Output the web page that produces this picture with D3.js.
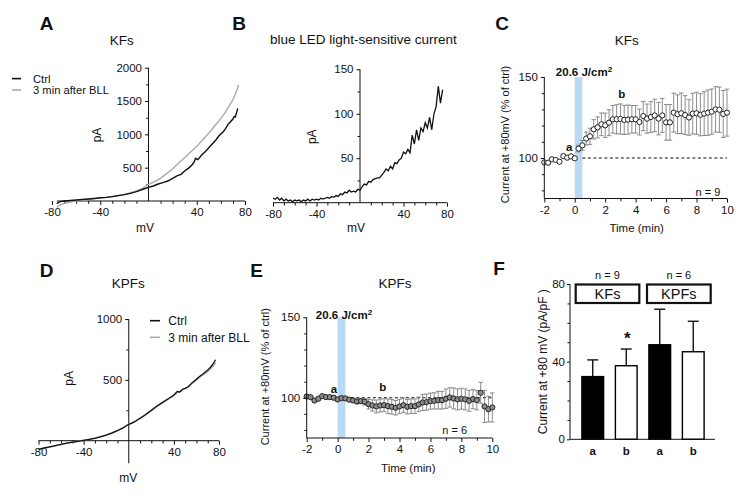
<!DOCTYPE html>
<html><head><meta charset="utf-8">
<script src="https://cdn.jsdelivr.net/npm/d3@7"></script>
<style>body{margin:0;background:#fff}</style>
</head><body><svg id="c" width="743" height="503"></svg>
<script>
// ---------------- DATA ----------------
// Panel A (KFs I-V) : [mV, pA]
const ivA_ctrl = [[-76,-40],[-75,-25],[-73,-10],[-70,0],[-65,8],[-60,15],[-55,22],[-50,30],[-45,38],[-40,48],[-35,55],[-30,65],[-25,80],[-20,95],[-15,115],[-10,140],[-7,160],[-4,180],[0,205],[4,225],[8,255],[12,275],[16,300],[20,340],[24,380],[27,400],[30,450],[33,490],[36,540],[38,590],[39,640],[41,620],[44,690],[47,740],[50,800],[53,860],[56,920],[59,990],[62,1040],[64,1090],[66,1150],[68,1190],[70,1230],[71,1270],[72,1260],[74,1390]];
const ivA_bll = [[-76,-95],[-74,-70],[-72,-50],[-70,-38],[-65,-15],[-60,0],[-55,10],[-50,22],[-45,35],[-40,45],[-35,55],[-30,68],[-25,82],[-20,100],[-15,125],[-10,150],[-5,190],[0,250],[5,290],[10,340],[15,410],[20,480],[25,570],[30,650],[35,735],[40,820],[45,920],[50,1020],[55,1130],[60,1240],[63,1310],[66,1400],[68,1460],[70,1520],[72,1600],[74,1700],[74.5,1740]];
// Panel B (blue LED light-sensitive current) : [mV, pA]
const ivB = [[-80,5],[-78,4],[-76,6],[-74,3],[-72,5],[-70,2],[-68,4],[-66,2],[-64,3],[-62,1],[-60,3],[-58,2],[-56,3],[-54,1],[-52,3],[-50,2],[-48,4],[-46,2],[-44,4],[-42,3],[-40,4],[-38,3],[-36,5],[-34,4],[-32,5],[-30,6],[-28,5],[-26,7],[-24,6],[-22,8],[-20,7],[-18,10],[-16,9],[-14,12],[-12,11],[-10,14],[-8,12],[-6,13],[-4,12],[-2,15],[0,14],[2,18],[4,21],[6,20],[8,24],[10,23],[12,26],[14,27],[16,28],[18,28],[20,31],[22,34],[24,38],[26,36],[28,41],[30,38],[32,45],[34,44],[36,48],[38,50],[40,57],[42,55],[44,60],[46,56],[48,76],[50,66],[52,82],[54,70],[56,84],[58,80],[60,90],[62,84],[64,96],[66,82],[68,100],[70,108],[72,131],[74,112],[76,127]];
// Panel D (KPFs I-V) : [mV, pA]
const ivD_ctrl = [[-80,-72],[-75,-60],[-70,-50],[-65,-40],[-60,-30],[-55,-20],[-50,-12],[-45,-5],[-40,2],[-35,10],[-30,20],[-25,32],[-20,45],[-15,62],[-10,82],[-5,105],[0,135],[3,145],[6,160],[10,185],[15,215],[20,250],[25,285],[30,315],[35,345],[40,375],[43,405],[45,400],[48,425],[50,430],[53,445],[56,475],[60,505],[63,530],[66,550],[70,580],[73,610],[75,635],[77,665]];
const ivD_bll = [[-80,-75],[-75,-62],[-70,-52],[-65,-41],[-60,-31],[-55,-21],[-50,-12],[-45,-4],[-40,3],[-35,12],[-30,22],[-25,34],[-20,48],[-15,65],[-10,85],[-5,108],[0,138],[3,150],[6,163],[10,182],[15,212],[20,245],[25,280],[30,312],[35,342],[40,370],[43,395],[45,400],[48,418],[50,428],[53,445],[56,470],[60,498],[63,522],[66,542],[70,568],[73,595],[75,615],[77,640]];
// Panels C and E time courses
const timeMin = [-2,-1.75,-1.5,-1.25,-1,-0.75,-0.5,-0.25,0,0.25,0.5,0.75,1,1.25,1.5,1.75,2,2.25,2.5,2.75,3,3.25,3.5,3.75,4,4.25,4.5,4.75,5,5.25,5.5,5.75,6,6.25,6.5,6.75,7,7.25,7.5,7.75,8,8.25,8.5,8.75,9,9.25,9.5,9.75,10];
const meanC = [97.3,97.1,99.2,98.8,97.7,101.2,100.2,101,99.8,105.8,107.8,112,113.4,117.7,118.9,120.8,120.2,121.8,123.9,123.9,124.1,123.5,123.7,123.9,123.9,122.2,125.9,124.3,125.3,126.3,124.3,126.3,122,122,128,127,127.6,126.5,125,127.4,127.6,126.7,127.4,128,128.6,130,129.8,127.2,128];
const semC = [1,1,1,1,1,1,1,1,1,2,3,4,5,6,6.5,7,7.5,8,8.5,9,9.3,9,9,8.5,8.5,8,9,9,9.5,10,10,10.5,11,11,12,12,12.5,12,11,12.5,13,13,13.5,14,14,14,14,14.5,14.5];
const meanE = [100.8,100.4,98.3,99.4,101,100.4,100.4,100,99,99.8,99.6,98.8,98.3,97.7,97.9,97.5,96,95.2,94.6,95.2,95.4,94.8,94.4,93.8,94.6,95.4,94.4,94.8,94.8,95.9,97.1,97.3,97.9,98.1,98.5,98.5,99.4,100.2,99.6,99,99.4,99,98.1,99.2,98.5,103.1,94.6,92.9,94];
const semE = [1,1,1,1,1,1,1,1,1,1,1,1,1,1.5,1.5,2,3,3.5,4,4,4,4.5,4.5,4.5,4.5,4.5,4.5,4.5,4.5,4.5,5,5,5,5,5.5,5.5,6,6,6.5,6.5,6.5,6.5,6.5,6,6,6.5,10,8,9,8];
const lightBand = [0, 0.5];
// Panel F bars
const barCats = ["a","b","a","b"];
const barMeans = [32.3, 37.9, 48.7, 45.1];
const barSem = [8.6, 8.6, 18.3, 15.7];
const barGroups = ["KFs","KPFs"];
const barN = ["n = 9","n = 6"];
// tick values
const mvMajor = [-80,-40,40,80];
const mvMinor = [-70,-60,-50,-30,-20,-10,10,20,30,50,60,70];
const tMajor = [-2,0,2,4,6,8,10];
const tMinor = [-1,1,3,5,7,9];

// ---------------- DRAW ----------------
const FONT = '"Liberation Sans", Arial, Helvetica, sans-serif';
const svg = d3.select("#c").attr("font-family", FONT);

function axis(type, scale, at, major, minor, fmt, ext, tick) {
  tick = tick || 4;
  const mk = () => type === "b" ? d3.axisBottom(scale) : d3.axisLeft(scale);
  const tr = type === "b" ? `translate(0,${at})` : `translate(${at},0)`;
  const ga = svg.append("g").attr("transform", tr)
    .call(mk().tickValues(major).tickSize(tick).tickSizeOuter(0).tickPadding(3).tickFormat(fmt));
  ga.attr("font-family", FONT).attr("font-size", 11.5).style("color", "#111");
  ga.select(".domain").remove();
  if (minor) {
    const gm = svg.append("g").attr("transform", tr)
      .call(mk().tickValues(minor).tickSize(tick * 0.7).tickSizeOuter(0).tickFormat(""));
    gm.style("color", "#111");
    gm.select(".domain").remove();
  }
  const l = svg.append("line").attr("stroke", "#111").attr("stroke-width", 1);
  if (type === "b") l.attr("x1", scale(ext[0])).attr("x2", scale(ext[1])).attr("y1", at).attr("y2", at);
  else l.attr("y1", scale(ext[0])).attr("y2", scale(ext[1])).attr("x1", at).attr("x2", at);
  return ga;
}
function txt(x, y, s, o) {
  o = o || {};
  const t = svg.append("text").attr("x", x).attr("y", y).attr("dy", "0.35em")
    .attr("text-anchor", o.anchor || "middle").attr("font-size", o.size || 12)
    .attr("font-weight", o.bold ? "bold" : "normal").attr("fill", o.fill || "#111");
  if (o.rot) t.attr("transform", `rotate(-90,${x},${y})`);
  t.text(s);
  return t;
}
function sup(x, y, base, s2, size) {
  const t = svg.append("text").attr("x", x).attr("y", y).attr("dy", "0.35em")
    .attr("text-anchor", "middle").attr("font-size", size).attr("font-weight", "bold").attr("fill", "#111");
  t.append("tspan").text(base);
  t.append("tspan").attr("font-size", size * 0.7).attr("dy", "-0.45em").text(s2);
}
const fmtNum = d => String(d);

// ---- Panel A ----
{
  const x = d3.scaleLinear().domain([-80, 80]).range([52, 245]);
  const y = d3.scaleLinear().domain([0, 2000]).range([201, 67.7]);
  axis("b", x, y(0), mvMajor, mvMinor, fmtNum, [-76, 80]);
  axis("l", y, x(0), [500, 1000, 1500, 2000], [250, 750, 1250, 1750], fmtNum, [0, 2000], 3.5);
  const line = d3.line().x(d => x(d[0])).y(d => y(d[1]));
  svg.append("path").datum(ivA_bll).attr("d", line).attr("fill", "none").attr("stroke", "#aaa").attr("stroke-width", 1.4);
  svg.append("path").datum(ivA_ctrl).attr("d", line).attr("fill", "none").attr("stroke", "#111").attr("stroke-width", 1.4);
  txt(46.7, 23.5, "A", {size: 19, bold: true});
  txt(121.7, 40.7, "KFs", {size: 13.5});
  txt(96.7, 135, "pA", {size: 12, rot: true});
  txt(145, 227.7, "mV", {size: 12});
  svg.append("line").attr("x1", 12).attr("x2", 21).attr("y1", 78.6).attr("y2", 78.6).attr("stroke", "#111").attr("stroke-width", 1.6);
  svg.append("line").attr("x1", 12).attr("x2", 21).attr("y1", 90).attr("y2", 90).attr("stroke", "#aaa").attr("stroke-width", 1.6);
  txt(33, 78.6, "Ctrl", {anchor: "start", size: 11.2});
  txt(33, 90, "3 min after BLL", {anchor: "start", size: 11.2});
}
// ---- Panel B ----
{
  const x = d3.scaleLinear().domain([-80, 80]).range([273, 447]);
  const y = d3.scaleLinear().domain([0, 150]).range([202.7, 69.3]);
  axis("b", x, y(0), mvMajor, mvMinor, fmtNum, [-80, 80]);
  axis("l", y, x(0), [50, 100, 150], [25, 75, 125], fmtNum, [0, 150], 3.5);
  const line = d3.line().x(d => x(d[0])).y(d => y(d[1]));
  svg.append("path").datum(ivB).attr("d", line).attr("fill", "none").attr("stroke", "#111").attr("stroke-width", 1.3);
  txt(239, 23.5, "B", {size: 19, bold: true});
  txt(363.3, 39, "blue LED light-sensitive current", {size: 13.5});
  txt(311.7, 136.7, "pA", {size: 12, rot: true});
  txt(356, 227.7, "mV", {size: 12});
}
// ---- time course helper ----
function timeCourse(x, y, mean, sem, fill) {
  svg.append("rect").attr("x", x(lightBand[0])).attr("width", x(lightBand[1]) - x(lightBand[0]))
    .attr("y", y(150)).attr("height", y(75) - y(150)).attr("fill", "#b8daf5");
  svg.append("line").attr("x1", x(0.5)).attr("x2", x(10)).attr("y1", y(100)).attr("y2", y(100))
    .attr("stroke", "#111").attr("stroke-width", 1.2).attr("stroke-dasharray", "3,2.5");
  const pts = timeMin.map((t, i) => ({t, m: mean[i], s: sem[i]}));
  const eb = svg.append("g").attr("stroke", "#808080").attr("stroke-width", 0.9);
  eb.selectAll("line.v").data(pts).join("line").attr("x1", d => x(d.t)).attr("x2", d => x(d.t))
    .attr("y1", d => y(d.m - d.s)).attr("y2", d => y(d.m + d.s));
  eb.selectAll("line.t").data(pts).join("line").attr("x1", d => x(d.t) - 2.3).attr("x2", d => x(d.t) + 2.3)
    .attr("y1", d => y(d.m + d.s)).attr("y2", d => y(d.m + d.s));
  eb.selectAll("line.b").data(pts).join("line").attr("x1", d => x(d.t) - 2.3).attr("x2", d => x(d.t) + 2.3)
    .attr("y1", d => y(d.m - d.s)).attr("y2", d => y(d.m - d.s));
  svg.append("g").selectAll("circle").data(pts).join("circle")
    .attr("cx", d => x(d.t)).attr("cy", d => y(d.m)).attr("r", 2.6)
    .attr("fill", fill).attr("stroke", "#222").attr("stroke-width", 1);
  axis("b", x, y(75), tMajor, tMinor, fmtNum, [-2, 10]);
  axis("l", y, x(-2), [100, 150], [80, 90, 110, 120, 130, 140], fmtNum, [75, 150], 3.5);
}
// ---- Panel C ----
{
  const x = d3.scaleLinear().domain([-2, 10]).range([544.3, 727]);
  const y = d3.scaleLinear().domain([75, 150]).range([198.5, 77]);
  timeCourse(x, y, meanC, semC, "#fff");
  txt(502, 23.5, "C", {size: 19, bold: true});
  txt(626.7, 40.7, "KFs", {size: 13.5});
  txt(505, 134.5, "Current at +80mV (% of ctrl)", {size: 11, rot: true});
  txt(636.7, 227.7, "Time (min)", {size: 11.5});
  sup(584, 72, "20.6 J/cm", "2", 11.5);
  txt(569.3, 146.7, "a", {size: 11.5, bold: true});
  txt(621.7, 94.3, "b", {size: 11.5, bold: true});
  txt(708, 192.3, "n = 9", {size: 11});
}
// ---- Panel D ----
{
  const x = d3.scaleLinear().domain([-80, 80]).range([38.5, 219]);
  const y = d3.scaleLinear().domain([0, 1000]).range([440.7, 319]);
  axis("b", x, y(0), mvMajor, mvMinor, fmtNum, [-80, 80]);
  axis("l", y, x(0), [500, 1000], [250, 750], fmtNum, [-185, 1000], 3.5);
  const line = d3.line().x(d => x(d[0])).y(d => y(d[1]));
  svg.append("path").datum(ivD_bll).attr("d", line).attr("fill", "none").attr("stroke", "#aaa").attr("stroke-width", 1.5);
  svg.append("path").datum(ivD_ctrl).attr("d", line).attr("fill", "none").attr("stroke", "#111").attr("stroke-width", 1.3);
  txt(46.7, 270, "D", {size: 19, bold: true});
  txt(128.3, 283.3, "KPFs", {size: 13.5});
  txt(68.3, 378.3, "pA", {size: 12, rot: true});
  txt(128.3, 477.7, "mV", {size: 12});
  svg.append("line").attr("x1", 150).attr("x2", 160).attr("y1", 320.7).attr("y2", 320.7).attr("stroke", "#111").attr("stroke-width", 1.6);
  svg.append("line").attr("x1", 150).attr("x2", 160).attr("y1", 337.3).attr("y2", 337.3).attr("stroke", "#aaa").attr("stroke-width", 1.6);
  txt(168.3, 320.7, "Ctrl", {anchor: "start", size: 12});
  txt(168.3, 337.3, "3 min after BLL", {anchor: "start", size: 12});
}
// ---- Panel E ----
{
  const x = d3.scaleLinear().domain([-2, 10]).range([306.7, 492.3]);
  const y = d3.scaleLinear().domain([75, 150]).range([438, 317.3]);
  timeCourse(x, y, meanE, semE, "#8c8c8c");
  txt(256.5, 270, "E", {size: 19, bold: true});
  txt(395, 283.3, "KPFs", {size: 13.5});
  txt(265, 376.7, "Current at +80mV (% of ctrl)", {size: 11, rot: true});
  txt(408.3, 468.3, "Time (min)", {size: 11.5});
  sup(344, 314.5, "20.6 J/cm", "2", 11.5);
  txt(334, 389.3, "a", {size: 11.5, bold: true});
  txt(382.7, 387.3, "b", {size: 11.5, bold: true});
  txt(454.7, 430, "n = 6", {size: 11});
}
// ---- Panel F ----
{
  const x = d3.scaleBand().domain(d3.range(barCats.length)).range([576, 710]).paddingInner(0.31).paddingOuter(0.155);
  const y = d3.scaleLinear().domain([0, 80]).range([439.3, 284]);
  const bw = x.bandwidth();
  const data = barMeans.map((m, i) => ({i, m, s: barSem[i], c: barCats[i]}));
  const eb = svg.append("g").attr("stroke", "#111").attr("stroke-width", 1.4);
  eb.selectAll("line.v").data(data).join("line").attr("x1", d => x(d.i) + bw / 2).attr("x2", d => x(d.i) + bw / 2)
    .attr("y1", d => y(d.m)).attr("y2", d => y(d.m + d.s));
  eb.selectAll("line.c").data(data).join("line").attr("x1", d => x(d.i) + bw / 2 - 5.5).attr("x2", d => x(d.i) + bw / 2 + 5.5)
    .attr("y1", d => y(d.m + d.s)).attr("y2", d => y(d.m + d.s));
  svg.append("g").selectAll("rect").data(data).join("rect")
    .attr("x", d => x(d.i) + 0.7).attr("width", bw - 1.4).attr("y", d => y(d.m)).attr("height", d => y(0) - y(d.m))
    .attr("fill", d => d.c === "a" ? "#000" : "#fff").attr("stroke", "#000").attr("stroke-width", 1.4);
  const gx = svg.append("g").attr("transform", `translate(0,${y(0)})`)
    .call(d3.axisBottom(x).tickSize(0).tickPadding(8).tickFormat(i => barCats[i]));
  gx.attr("font-family", FONT).attr("font-size", 11.5).attr("font-weight", "bold").style("color", "#111");
  gx.select(".domain").remove();
  svg.append("line").attr("x1", 570).attr("x2", 715).attr("y1", y(0)).attr("y2", y(0)).attr("stroke", "#111");
  const ga = svg.append("g").attr("transform", "translate(570,0)")
    .call(d3.axisLeft(y).tickValues([0, 40, 80]).tickSize(3).tickPadding(2).tickFormat(fmtNum));
  ga.attr("font-family", FONT).attr("font-size", 11.5).style("color", "#111");
  ga.select(".domain").remove();
  const gm = svg.append("g").attr("transform", "translate(570,0)")
    .call(d3.axisLeft(y).tickValues([10, 20, 30, 50, 60, 70]).tickSize(2.5).tickFormat(""));
  gm.style("color", "#111"); gm.select(".domain").remove();
  svg.append("line").attr("x1", 570).attr("x2", 570).attr("y1", y(0)).attr("y2", y(80)).attr("stroke", "#111");
  const boxes = [[575.7, 639.3], [647, 710.7]];
  boxes.forEach((b, k) => {
    svg.append("rect").attr("x", b[0]).attr("y", 284.5).attr("width", b[1] - b[0]).attr("height", 18.5)
      .attr("fill", "#fff").attr("stroke", "#111").attr("stroke-width", 2.2);
    txt((b[0] + b[1]) / 2, 294, barGroups[k], {size: 14.5});
    txt((b[0] + b[1]) / 2, 275, barN[k], {size: 11});
  });
  txt(x(1) + bw / 2 + 1, 338, "*", {size: 17, bold: true});
  txt(499, 268.5, "F", {size: 19, bold: true});
  txt(543.3, 361.7, "Current at +80 mV (pA/pF )", {size: 12, rot: true});
}
</script></body></html>
